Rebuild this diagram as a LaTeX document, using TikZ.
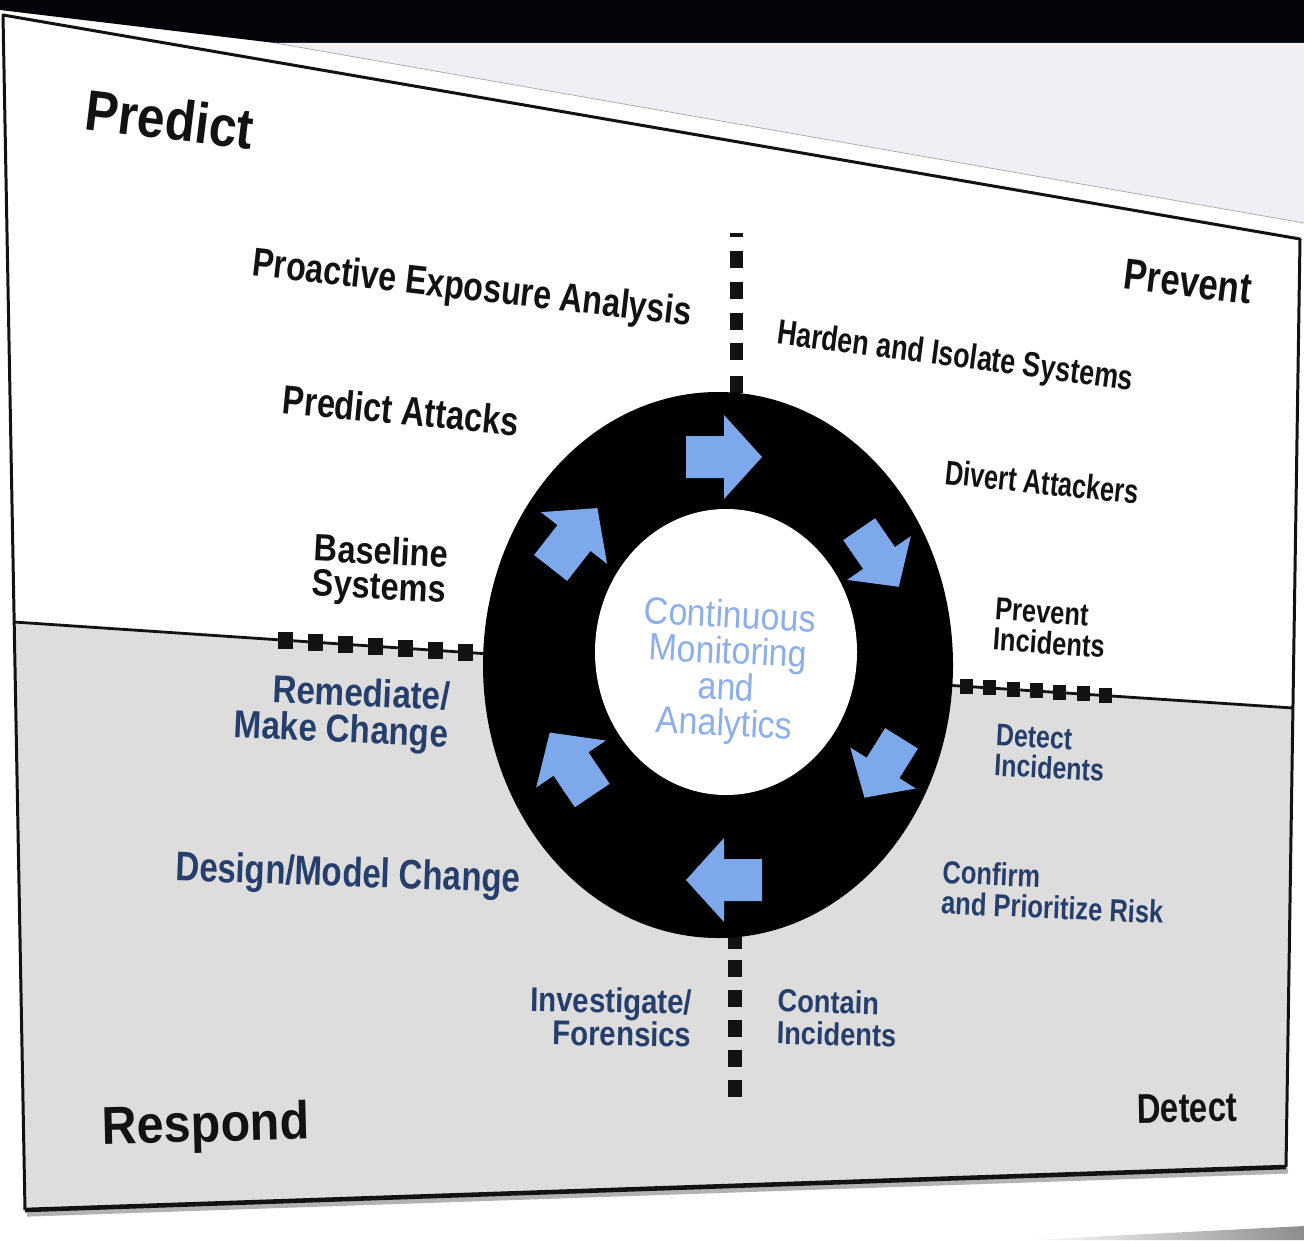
\documentclass[tikz,border=0pt]{standalone}
\usepackage{fontspec}
\setmainfont{Liberation Sans}
\definecolor{ink}{RGB}{18,18,18}
\definecolor{navy}{RGB}{38,62,108}
\definecolor{flow}{RGB}{125,168,236}
\definecolor{hubtext}{RGB}{140,175,236}
\definecolor{lowerzone}{RGB}{221,221,221}
\definecolor{backslide}{RGB}{239,239,244}
\definecolor{topband}{RGB}{3,3,10}
\newcommand\lblfont[2]{\fontsize{#1pt}{#2pt}\selectfont\bfseries}
\newcommand\hubfont[2]{\fontsize{#1pt}{#2pt}\selectfont}

\begin{document}
\begin{tikzpicture}[x=0.02cm,y=-0.02cm,
  lbl/.style={inner sep=0pt, text=ink},
  bluelbl/.style={inner sep=0pt, text=navy},
  frameline/.style={draw=ink, line width=1.7pt, line join=round},
  divider/.style={draw=ink, line width=1.6pt},
  cyc/.pic={\fill[flow] (-38,-21) -- (0,-21) -- (0,-42) -- (38,0) -- (0,42) -- (0,21) -- (-38,21) -- cycle;}]

% page and surroundings
\useasboundingbox (0,0) rectangle (1304,1240);
\fill[white] (0,0) rectangle (1304,1240);
\fill[topband] (0,0) -- (1304,0) -- (1304,43) -- (275,43) -- (0,10) -- cycle;
\fill[backslide] (275,43) -- (1304,43) -- (1304,223) -- cycle;
\draw[black!35, line width=0.4pt] (275,43) -- (1304,223);
\shade[left color=white, right color=black!45] (1030,1240) -- (1304,1226) -- (1304,1240) -- cycle;

% slide frame with its two halves
\fill[white] (3,15) -- (1300,239) -- (1286,1167) -- (25,1210) -- cycle;
\fill[lowerzone] (14,622) -- (1293,708) -- (1286,1167) -- (25,1210) -- cycle;
\draw[black!30, line width=3pt] (27,1214) -- (1288,1171);
\draw[frameline] (25,1210) -- (3,15) -- (1300,239) -- (1286,1167);
\draw[ink, line width=2.6pt] (1286,1167) -- (25,1210);

% quadrant dividers
\draw[divider] (14,622) -- (490,654);
\draw[divider] (945,685) -- (1293,708);
\foreach \x in {285,315,345.5,375.5,405.5,435.5,465}
  \fill[ink] ({\x-7.5},{622+0.0672*(\x-13)-8.5}) rectangle ++(15,17);
\foreach \x in {966.5,989.5,1013.5,1036.5,1059.5,1083,1105}
  \fill[ink] ({\x-6.5},{622+0.0672*(\x-13)-7.5}) rectangle ++(13,15);
\fill[ink] (730,233) rectangle (743,236.5);
\foreach \y in {259,290,321.5,351.5,384}
  \fill[ink] (729.5,{\y-8.5}) rectangle ++(13,17);
\foreach \y in {940,968.5,998.5,1028.5,1058.5,1088.5}
  \fill[ink] (727.5,{\y-8.5}) rectangle ++(14,17);

% monitoring ring
\fill[black] (718,665) ellipse [x radius=235, y radius=273];
\fill[white] (726,652) ellipse [x radius=131, y radius=143];

% cycle arrows
\pic (flowTop) at (724,457) {cyc};
\pic (flowUR) [rotate=-55.5, scale=0.92] at (879,558) {cyc};
\pic (flowLR) [rotate=-122, scale=0.92] at (883,768) {cyc};
\pic (flowBot) [rotate=180] at (724,880) {cyc};
\pic (flowLL) [rotate=124] at (571,764) {cyc};
\pic (flowUL) [rotate=52] at (574,538) {cyc};

\node[inner sep=0pt, text=hubtext, align=center, font=\hubfont{19.3}{18.4}, rotate=-3, yscale=1.12]
  (hub) at (727,672) {Continuous\\Monitoring\\and\\Analytics};

% quadrant headings
\node[lbl, font=\lblfont{28.3}{28}, rotate=-7, yscale=1.15] (hPredict) at (170,119) {Predict};
\node[lbl, font=\lblfont{19.8}{20}, rotate=-7, yscale=1.25] (hPrevent) at (1188,282) {Prevent};
\node[lbl, font=\lblfont{27.6}{28}, rotate=1.5, yscale=1.1] (hRespond) at (206,1128) {Respond};
\node[lbl, font=\lblfont{18.7}{19}, rotate=1, yscale=1.27] (hDetect) at (1187,1108) {Detect};

% predict / prevent activities
\node[lbl, font=\lblfont{18.3}{18}, rotate=-6.5, yscale=1.25] (proactive) at (472,290) {Proactive Exposure Analysis};
\node[lbl, font=\lblfont{18.5}{18}, rotate=-5.5, yscale=1.25] (attacks) at (401,410) {Predict Attacks};
\node[lbl, align=left, font=\lblfont{18.5}{17}, rotate=-3, yscale=1.17] (baseline) at (380,572) {Baseline\\Systems};
\node[lbl, font=\lblfont{15.3}{15}, rotate=-7.5, yscale=1.3] (harden) at (955,358) {Harden and Isolate Systems};
\node[lbl, font=\lblfont{14.4}{14}, rotate=-6, yscale=1.35] (divert) at (1042,482) {Divert Attackers};
\node[lbl, align=left, font=\lblfont{14.5}{13.8}, rotate=-4, yscale=1.25] (prevInc) at (1050,628) {Prevent\\Incidents};

% respond / detect activities
\node[bluelbl, align=right, font=\lblfont{18.9}{18}, rotate=-2.5, yscale=1.17] (remediate) at (342,714) {Remediate/\\Make Change};
\node[bluelbl, font=\lblfont{18.8}{18}, rotate=-2, yscale=1.25] (design) at (348,876) {Design/Model Change};
\node[bluelbl, align=right, font=\lblfont{16.7}{16}, rotate=-1, yscale=1.17] (investigate) at (611,1017) {Investigate/\\Forensics};
\node[bluelbl, align=left, font=\lblfont{14.2}{13.8}, rotate=-3, yscale=1.25] (detInc) at (1050,753) {Detect\\Incidents};
\node[bluelbl, align=left, font=\lblfont{14.5}{14}, rotate=-2.5, yscale=1.25] (confirm) at (1053,892) {Confirm\\and Prioritize Risk};
\node[bluelbl, align=left, font=\lblfont{15.5}{15.6}, rotate=-1.5, yscale=1.17] (contain) at (837,1018) {Contain\\Incidents};
\end{tikzpicture}
\end{document}
